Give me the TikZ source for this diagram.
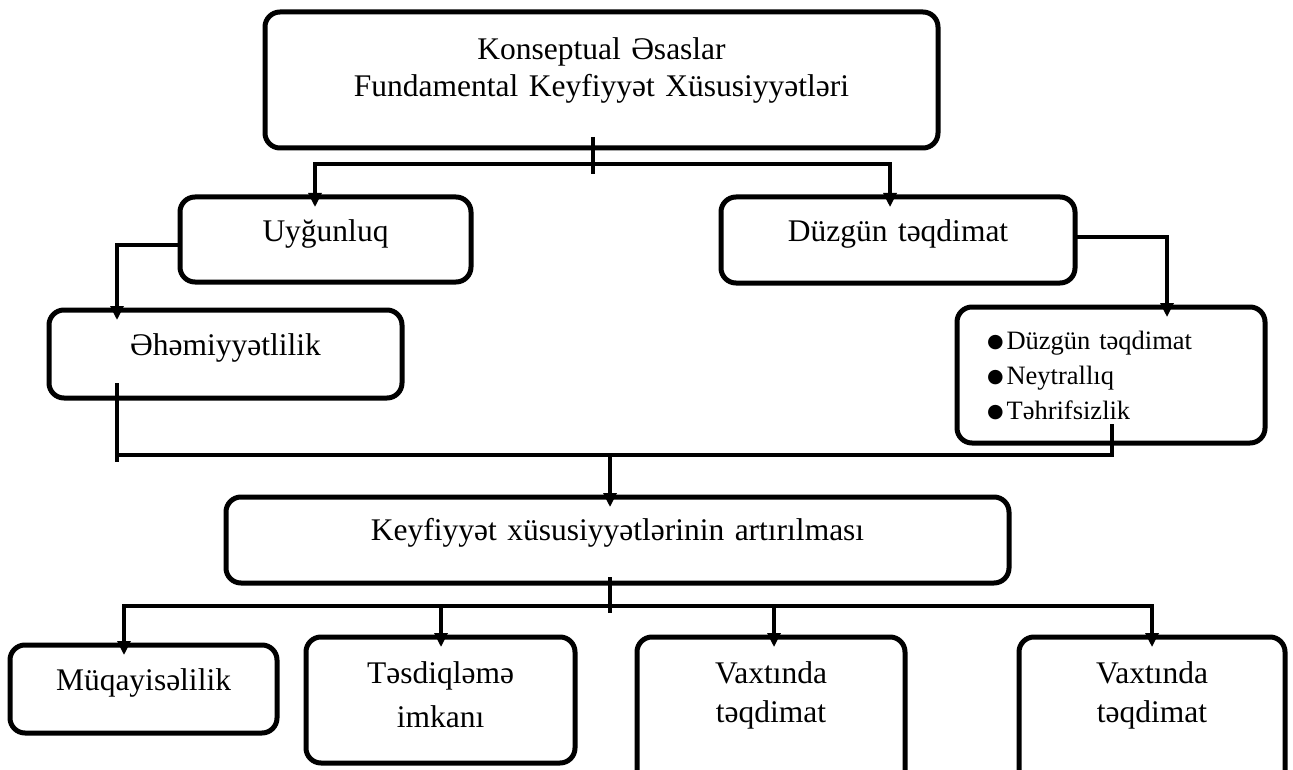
\documentclass[tikz,border=0pt]{standalone}
\usepackage{fontspec}
\setmainfont{Liberation Serif}
\newfontfamily\dotfont{DejaVu Sans}
\usetikzlibrary{arrows.meta}
\newcommand{\bigdot}{\raisebox{1.5pt}{\dotfont\fontsize{19}{19}\selectfont ●}\hspace{3pt}}
\tikzset{
  box/.style={draw, line width=5pt, rounded corners=15pt, inner sep=0pt, outer sep=0pt,
    anchor=north west, align=center, font=\fontsize{31.5}{37}\selectfont},
  link/.style={line width=3.2pt},
  arrow/.style={link, -{Triangle[width=13pt,length=14pt]}, shorten >=-10pt},
}
\begin{document}
\begin{tikzpicture}[x=1pt, y=-1pt]
  \useasboundingbox (0,0) rectangle (1293,770);

  \node[box, text width=673pt, text height=48pt, text depth=88pt] (top) at (265,12)
    {Konseptual Əsaslar\\Fundamental Keyfiyyət Xüsusiyyətləri};

  \node[box, text width=291pt, text height=44pt, text depth=41pt] (uyg) at (180,197) {Uyğunluq};
  \node[box, text width=354pt, text height=44pt, text depth=42pt] (duz) at (721,197) {Düzgün təqdimat};

  \node[box, text width=353pt, text height=45pt, text depth=43pt] (ehm) at (49,310) {Əhəmiyyətlilik};
  \node[box, text width=248pt, inner xsep=30pt, align=left, text height=42pt, text depth=94pt,
    font=\fontsize{26.5}{35}\selectfont] (list) at (957,307)
    {\bigdot Düzgün təqdimat\\\bigdot Neytrallıq\\\bigdot Təhrifsizlik};

  \node[box, text width=783pt, text height=43pt, text depth=43pt] (key) at (226,497)
    {Keyfiyyət xüsusiyyətlərinin artırılması};

  \node[box, text width=267pt, text height=45pt, text depth=43pt] (muq) at (10,645) {Müqayisəlilik};
  \node[box, text width=269pt, text height=46pt, text depth=80pt,
    font=\fontsize{31.5}{44}\selectfont] (tes) at (306,637) {Təsdiqləmə\\imkanı};
  \node[box, text width=268pt, text height=46pt, text depth=129pt,
    font=\fontsize{31.5}{39}\selectfont] (vax1) at (637,637) {Vaxtında\\təqdimat};
  \node[box, text width=266pt, text height=46pt, text depth=129pt,
    font=\fontsize{31.5}{39}\selectfont] (vax2) at (1019,637) {Vaxtında\\təqdimat};

  % top split
  \coordinate (t1) at (593,137);
  \coordinate (t2) at (593,174);
  \coordinate (j1) at (593,164);
  \draw[link] (t1) -- (t2);
  \draw[arrow] (j1) -| ([xshift=-10.5pt]uyg.north);
  \draw[arrow] (j1) -| ([xshift=-8pt]duz.north);

  \draw[arrow] ([yshift=-5.5pt]uyg.west) -| ([xshift=-108.5pt]ehm.north);
  \draw[arrow] ([yshift=3pt]duz.east) -| ([xshift=56pt]list.north);

  % join into key
  \coordinate (e1) at (117,383);
  \coordinate (e2) at (117,462);
  \coordinate (l1) at (1112,424);
  \coordinate (j2) at (610,455);
  \draw[link] (e1) -- (e2);
  \draw[link] (e1 |- j2) -- (l1 |- j2) -- (l1);
  \draw[arrow] (j2) -- ([xshift=-7.5pt]key.north);

  % bottom split
  \coordinate (k1) at (610,577);
  \coordinate (k2) at (610,613);
  \coordinate (j3) at (610,606);
  \draw[link] (k1) -- (k2);
  \draw[arrow] (j3) -| ([xshift=-19.5pt]muq.north);
  \draw[arrow] (j3) -| ([xshift=0.5pt]tes.north);
  \draw[arrow] (j3) -| ([xshift=3pt]vax1.north);
  \draw[arrow] (j3) -| (vax2.north);
\end{tikzpicture}
\end{document}
